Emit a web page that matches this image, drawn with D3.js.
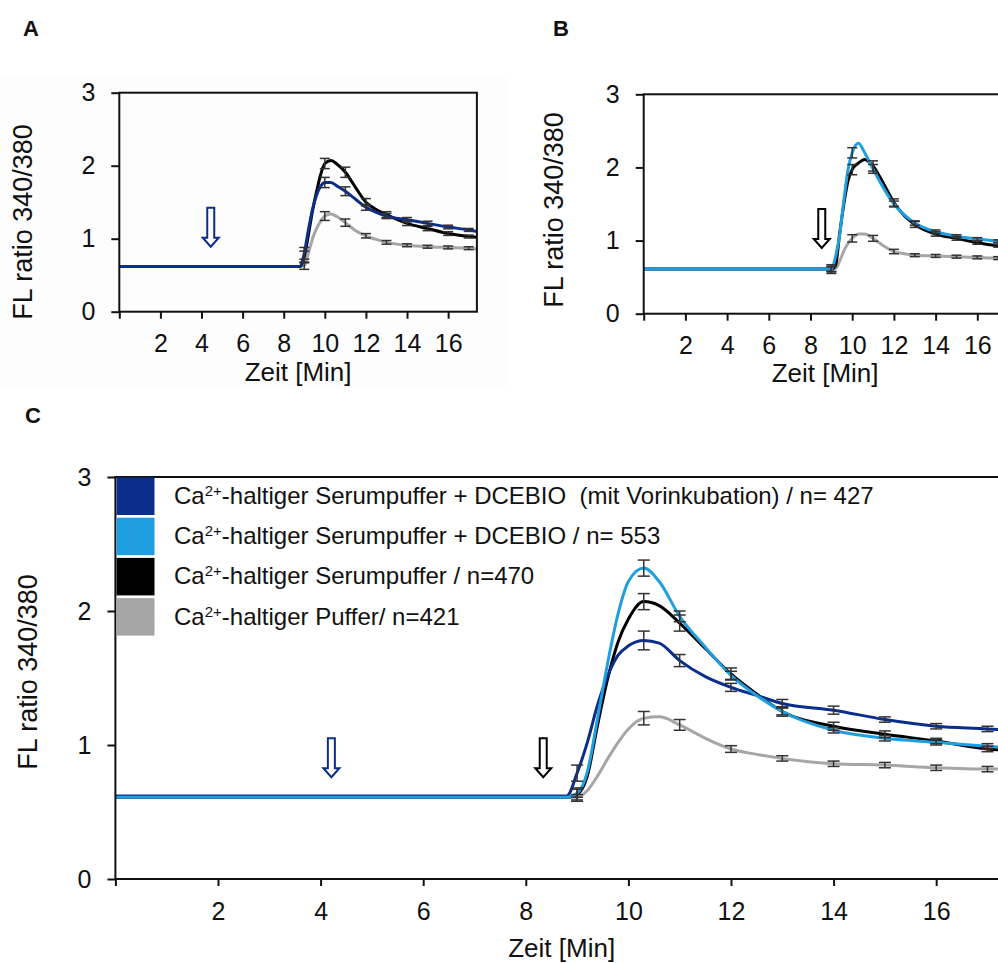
<!DOCTYPE html>
<html>
<head>
<meta charset="utf-8">
<script src="https://cdn.jsdelivr.net/npm/d3@7/dist/d3.min.js"></script>
<style>
body { margin: 0; background: #fff; }
svg { display: block; font-family: "Liberation Sans", Arial, sans-serif; }
</style>
</head>
<body>
<div id="g-container"></div>
<script>
// sample times [min], shared by every curve
var time = [0, 1, 2, 3, 4, 5, 6, 7, 8, 8.8, 9, 9.2, 9.4, 9.6, 9.8, 10, 10.3, 10.6, 11, 11.5, 12, 12.5, 13, 14, 15, 16, 17, 17.4]

// panel A
var aDcPre  = [0.62,0.62,0.62,0.62,0.62,0.62,0.62,0.62,0.62,0.62,0.80,1.12,1.40,1.60,1.72,1.77,1.77,1.72,1.65,1.54,1.43,1.36,1.31,1.26,1.21,1.16,1.12,1.10]
var aSerum  = [0.62,0.62,0.62,0.62,0.62,0.62,0.62,0.62,0.62,0.62,0.75,1.05,1.38,1.65,1.88,2.03,2.07,2.02,1.91,1.70,1.50,1.40,1.33,1.21,1.14,1.07,1.03,1.02]
var aPuffer = [0.62,0.62,0.62,0.62,0.62,0.62,0.62,0.62,0.62,0.62,0.63,0.80,1.00,1.14,1.24,1.31,1.34,1.30,1.22,1.11,1.04,0.99,0.95,0.91,0.89,0.88,0.87,0.86]
// panel B
var bDc     = [0.61,0.61,0.61,0.61,0.61,0.61,0.61,0.61,0.61,0.61,0.61,0.78,1.08,1.55,1.97,2.20,2.33,2.20,1.98,1.72,1.50,1.35,1.24,1.12,1.06,1.02,0.99,0.98]
var bSerum  = [0.61,0.61,0.61,0.61,0.61,0.61,0.61,0.61,0.61,0.61,0.61,0.66,1.10,1.50,1.82,1.97,2.06,2.11,2.02,1.78,1.52,1.34,1.22,1.09,1.03,0.97,0.93,0.92]
var bPuffer = [0.61,0.61,0.61,0.61,0.61,0.61,0.61,0.61,0.61,0.61,0.61,0.62,0.72,0.86,0.96,1.03,1.09,1.09,1.03,0.93,0.85,0.82,0.80,0.79,0.78,0.77,0.76,0.76]
// panel C
var cDcPre  = [0.62,0.62,0.62,0.62,0.62,0.62,0.62,0.62,0.62,0.62,0.79,1.02,1.30,1.52,1.67,1.74,1.78,1.76,1.63,1.51,1.43,1.37,1.31,1.26,1.19,1.14,1.12,1.11]
var cDc     = [0.61,0.61,0.61,0.61,0.61,0.61,0.61,0.61,0.61,0.61,0.64,0.80,1.20,1.62,1.98,2.22,2.32,2.22,1.96,1.73,1.52,1.37,1.25,1.11,1.05,1.02,0.99,0.98]
var cSerum  = [0.61,0.61,0.61,0.61,0.61,0.61,0.61,0.61,0.61,0.61,0.63,0.77,1.15,1.50,1.77,1.94,2.07,2.04,1.91,1.72,1.53,1.38,1.25,1.14,1.08,1.03,0.97,0.96]
var cPuffer = [0.61,0.61,0.61,0.61,0.61,0.61,0.61,0.61,0.61,0.61,0.61,0.66,0.77,0.90,1.02,1.12,1.20,1.21,1.15,1.05,0.97,0.93,0.90,0.86,0.85,0.83,0.82,0.82]

// error bars (SEM)
var errTimesAB = [9, 10, 11, 12, 13, 14, 15, 16, 17]
var errTimesC  = [9, 10.3, 11, 12, 13, 14, 15, 16, 17]
var aDcPreSem  = [0.08,0.07,0.06,0.04,0.035,0.03,0.03,0.025,0.02]
var aSerumSem  = [0.08,0.07,0.07,0.05,0.04,0.03,0.03,0.025,0.02]
var aPufferSem = [0.05,0.06,0.05,0.03,0.025,0.02,0.02,0.02,0.02]
var bDcSem     = [0.04,0.07,0.06,0.04,0.03,0.025,0.02,0.02,0.02]
var bSerumSem  = [0.06,0.07,0.07,0.05,0.04,0.03,0.025,0.02,0.02]
var bPufferSem = [0.03,0.05,0.04,0.03,0.02,0.02,0.02,0.02,0.02]
var cDcPreSem  = [0.06,0.07,0.045,0.03,0.03,0.03,0.02,0.02,0.02]
var cDcSem     = [0.03,0.06,0.04,0.03,0.025,0.02,0.02,0.02,0.02]
var cSerumSem  = [0.05,0.06,0.06,0.045,0.035,0.03,0.025,0.02,0.02]
var cPufferSem = [0.02,0.05,0.04,0.025,0.02,0.02,0.02,0.02,0.02]

var xTicks = [0, 2, 4, 6, 8, 10, 12, 14, 16]
var yTicks = [0, 1, 2, 3]

// arrows: [time, value at tip]
var aArrows = [[4.45, 0.89]]
var bArrows = [[8.54, 0.90]]
var cArrows = [[4.21, 0.76], [8.34, 0.76]]

var legendLabels = [
	"-haltiger Serumpuffer + DCEBIO  (mit Vorinkubation) / n= 427",
	"-haltiger Serumpuffer + DCEBIO / n= 553",
	"-haltiger Serumpuffer / n=470",
	"-haltiger Puffer/ n=421"
]

var col = {dcPre: "#0b2e8a", dc: "#1f9fe0", serum: "#000000", puffer: "#a6a6a6"}
var legendColors = [col.dcPre, col.dc, col.serum, col.puffer]

var svg = d3.select("#g-container").append("svg").attr("width", 998).attr("height", 963)

// faint panel background behind A
svg.append("rect").attr("x", 0).attr("y", 77).attr("width", 508).attr("height", 310).attr("fill", "#fdfdfd")

function drawPanel(p) {
	var x = d3.scaleLinear().domain([0, 17.4]).range([p.left, p.right])
	var y = d3.scaleLinear().domain([0, 3]).range([p.bottom, p.top])
	var g = svg.append("g")

	var line = d3.line()
		.x(function(d, i){ return x(time[i]) })
		.y(function(d){ return y(d) })
		.curve(d3.curveMonotoneX)

	p.series.forEach(function(s){
		g.append("path").datum(s.values)
			.attr("d", line)
			.attr("fill", "none")
			.attr("stroke", s.color)
			.attr("stroke-width", p.lw)
			.attr("stroke-linejoin", "round")
	})

	// error bars
	p.series.forEach(function(s){
		p.errTimes.forEach(function(t, k){
			var v = s.values[time.indexOf(t)]
			var e = s.sem[k]
			var cx = x(t)
			var eb = g.append("g").attr("stroke", "#333").attr("stroke-width", 1.5)
			eb.append("line").attr("x1", cx).attr("x2", cx).attr("y1", y(v - e)).attr("y2", y(v + e))
			eb.append("line").attr("x1", cx - p.cap).attr("x2", cx + p.cap).attr("y1", y(v + e)).attr("y2", y(v + e))
			eb.append("line").attr("x1", cx - p.cap).attr("x2", cx + p.cap).attr("y1", y(v - e)).attr("y2", y(v - e))
		})
	})

	// frame
	g.append("rect")
		.attr("x", x(0)).attr("y", y(3))
		.attr("width", x(17.4) - x(0)).attr("height", y(0) - y(3))
		.attr("fill", "none").attr("stroke", "#111").attr("stroke-width", 2)

	var xAxis = g.append("g").attr("transform", "translate(0," + y(0) + ")")
		.call(d3.axisBottom(x).tickValues(xTicks).tickSize(7).tickPadding(16)
			.tickFormat(function(d){ return d === 0 ? "" : d }))
	var yAxis = g.append("g").attr("transform", "translate(" + x(0) + ",0)")
		.call(d3.axisLeft(y).tickValues(yTicks).tickSize(8).tickPadding(16).tickFormat(d3.format("d")))
	;[xAxis, yAxis].forEach(function(a){
		a.select(".domain").remove()
		a.selectAll("line").attr("stroke", "#111").attr("stroke-width", 2)
		a.selectAll("text").style("font-size", "25px").attr("fill", "#111")
			.style("font-family", "Liberation Sans, Arial, sans-serif")
	})

	// arrows
	p.arrows.forEach(function(a, i){
		var tx = x(a[0]), ty = y(a[1])
		var pts = [[tx-3.5, ty-39], [tx+3.5, ty-39], [tx+3.5, ty-9], [tx+8, ty-9], [tx, ty], [tx-8, ty-9], [tx-3.5, ty-9]]
		g.append("path").attr("d", "M" + pts.join("L") + "Z")
			.attr("fill", "#fff").attr("stroke", p.arrowColor[i]).attr("stroke-width", 2)
	})

	// titles
	g.append("text").attr("x", (x(0) + x(17.4)) / 2).attr("y", p.xTitleY)
		.attr("text-anchor", "middle").style("font-size", "26px").attr("fill", "#111").text("Zeit [Min]")
	g.append("text").attr("transform", "translate(" + p.yTitleX + "," + p.yTitleY + ") rotate(-90)")
		.attr("text-anchor", "middle").attr("dy", "0.36em")
		.style("font-size", "27px").attr("fill", "#111").text("FL ratio 340/380")
	g.append("text").attr("x", p.labelX).attr("y", p.labelY)
		.style("font-size", "22px").style("font-weight", "bold").attr("fill", "#111").text(p.label)

	return {x: x, y: y, g: g}
}

drawPanel({
	label: "A", labelX: 23, labelY: 36,
	left: 119.3, right: 476.9, top: 92.7, bottom: 311.7,
	lw: 3, cap: 5,
	errTimes: errTimesAB,
	xTitleY: 381, yTitleX: 22, yTitleY: 222,
	arrows: aArrows, arrowColor: [col.dcPre],
	series: [
		{values: aPuffer, sem: aPufferSem, color: col.puffer},
		{values: aSerum, sem: aSerumSem, color: col.serum},
		{values: aDcPre, sem: aDcPreSem, color: col.dcPre}
	]
})

drawPanel({
	label: "B", labelX: 553, labelY: 36,
	left: 643.7, right: 1006.5, top: 94.3, bottom: 313.7,
	lw: 3, cap: 5,
	errTimes: errTimesAB,
	xTitleY: 382, yTitleX: 553, yTitleY: 210,
	arrows: bArrows, arrowColor: [col.serum],
	series: [
		{values: bPuffer, sem: bPufferSem, color: col.puffer},
		{values: bSerum, sem: bSerumSem, color: col.serum},
		{values: bDc, sem: bDcSem, color: col.dc}
	]
})

drawPanel({
	label: "C", labelX: 25, labelY: 423,
	left: 115.4, right: 1008, top: 477, bottom: 879,
	lw: 3, cap: 6,
	errTimes: errTimesC,
	xTitleY: 957, yTitleX: 27, yTitleY: 672,
	arrows: cArrows, arrowColor: [col.dcPre, col.serum],
	series: [
		{values: cPuffer, sem: cPufferSem, color: col.puffer},
		{values: cSerum, sem: cSerumSem, color: col.serum},
		{values: cDcPre, sem: cDcPreSem, color: col.dcPre},
		{values: cDc, sem: cDcSem, color: col.dc}
	]
})

// legend in C
var legend = svg.append("g")
legendLabels.forEach(function(lbl, i){
	var top = 477.5 + i * 40.2
	legend.append("rect").attr("x", 116.5).attr("y", top).attr("width", 38).attr("height", 37.5)
		.attr("fill", legendColors[i])
	var t = legend.append("text").attr("x", 174).attr("y", top + 18.5 + 8)
		.style("font-size", "24px").style("white-space", "pre").attr("fill", "#111")
	t.append("tspan").text("Ca")
	t.append("tspan").attr("dy", -8).style("font-size", "15px").text("2+")
	t.append("tspan").attr("dy", 8).text(lbl)
})
</script>
</body>
</html>
